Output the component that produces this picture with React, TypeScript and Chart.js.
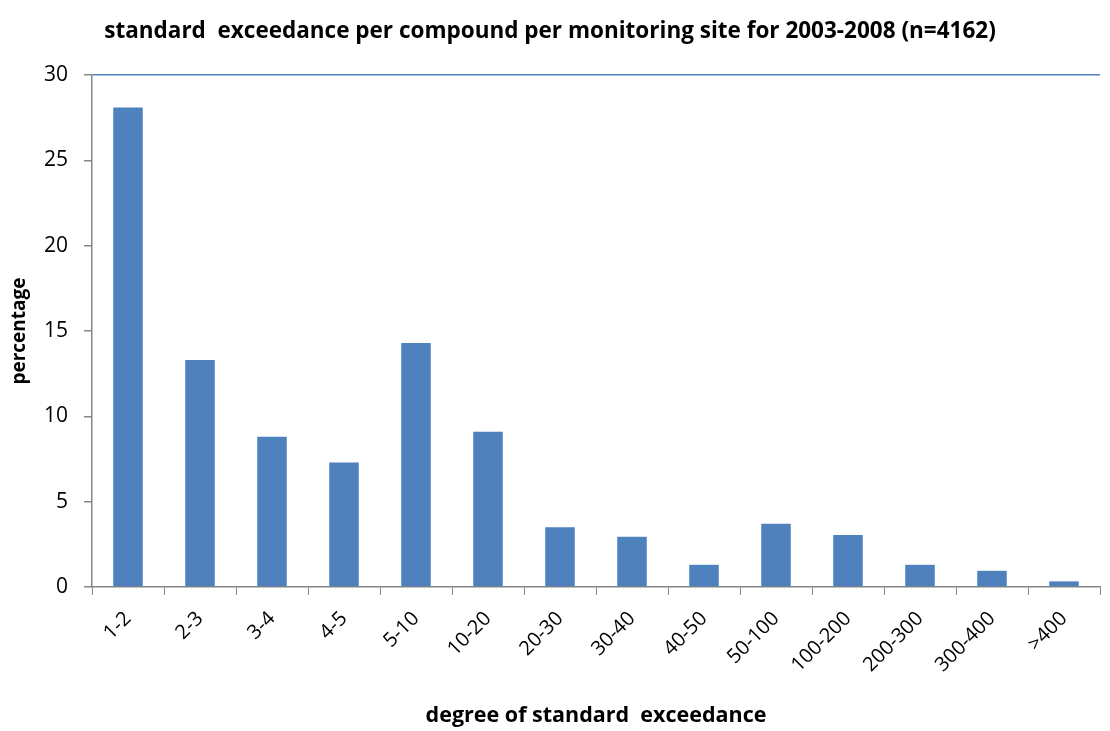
import React, { useEffect, useRef } from "react";
import { Chart, registerables } from "chart.js";

Chart.register(...registerables);

const categories = ["1-2", "2-3", "3-4", "4-5", "5-10", "10-20", "20-30", "30-40", "40-50", "50-100", "100-200", "200-300", "300-400", ">400"];
const percentages = [28.1, 13.3, 8.8, 7.3, 14.3, 9.1, 3.5, 2.95, 1.3, 3.7, 3.05, 1.3, 0.95, 0.33];
const yTicks = [0, 5, 10, 15, 20, 25, 30];
const titleText = "standard  exceedance per compound per monitoring site for 2003-2008 (n=4162)";
const xTitle = "degree of standard  exceedance";
const yTitle = "percentage";

export default function App() {
  const ref = useRef<HTMLCanvasElement | null>(null);
  useEffect(() => {
    document.body.style.margin = "0";
    const ctx = ref.current!.getContext("2d")!;
    const chart = new Chart(ctx, {
      type: "bar",
      data: {
        labels: categories,
        datasets: [
          {
            data: percentages,
            backgroundColor: "#4F81BD",
            borderWidth: 0,
            barPercentage: 0.41,
            categoryPercentage: 1,
          },
        ],
      },
      options: {
        animation: false,
        responsive: false,
        layout: { padding: { left: 0, right: 10, top: 14, bottom: 2 } },
        plugins: {
          legend: { display: false },
          tooltip: { enabled: false },
          title: {
            display: true,
            text: titleText,
            color: "#000",
            font: { family: "Open Sans", size: 22.5, weight: "bold" },
            padding: { top: 4, bottom: 30 },
          },
        },
        scales: {
          x: {
            afterFit: (axis: any) => {
              axis.height = 142;
            },
            grid: {
              offset: true,
              drawOnChartArea: false,
              drawTicks: true,
              tickLength: 8,
              color: "#868686",
            },
            border: { color: "#868686", width: 1.5 },
            ticks: {
              color: "#000",
              font: { family: "Open Sans", size: 20 },
              maxRotation: 45,
              minRotation: 45,
              autoSkip: false,
              padding: 12,
            },
            title: {
              display: true,
              text: xTitle,
              color: "#000",
              font: { family: "Open Sans", size: 21.5, weight: "bold" },
              padding: { top: 0, bottom: 0 },
            },
          },
          y: {
            min: 0,
            max: 30,
            afterBuildTicks: (axis: any) => {
              axis.ticks = yTicks.map((v) => ({ value: v }));
            },
            afterFit: (axis: any) => {
              axis.width = 92;
            },
            grid: {
              drawOnChartArea: true,
              color: (c: any) => (c.tick && c.tick.value === 30 ? "#4F81BD" : "rgba(0,0,0,0)"),
              tickColor: "#868686",
              tickLength: 8,
              lineWidth: 1.5,
            },
            border: { color: "#868686", width: 1.5 },
            ticks: {
              color: "#000",
              font: { family: "Open Sans", size: 21 },
              padding: 16,
            },
            title: {
              display: true,
              text: yTitle,
              color: "#000",
              font: { family: "Open Sans", size: 19, weight: "bold" },
              padding: { top: 8, bottom: 2 },
            },
          },
        },
      },
    });
    return () => chart.destroy();
  }, []);
  return (
    <div style={{ position: "absolute", left: 0, top: 0, width: 1110, height: 731 }}>
      <canvas ref={ref} width={1110} height={731} />
    </div>
  );
}
